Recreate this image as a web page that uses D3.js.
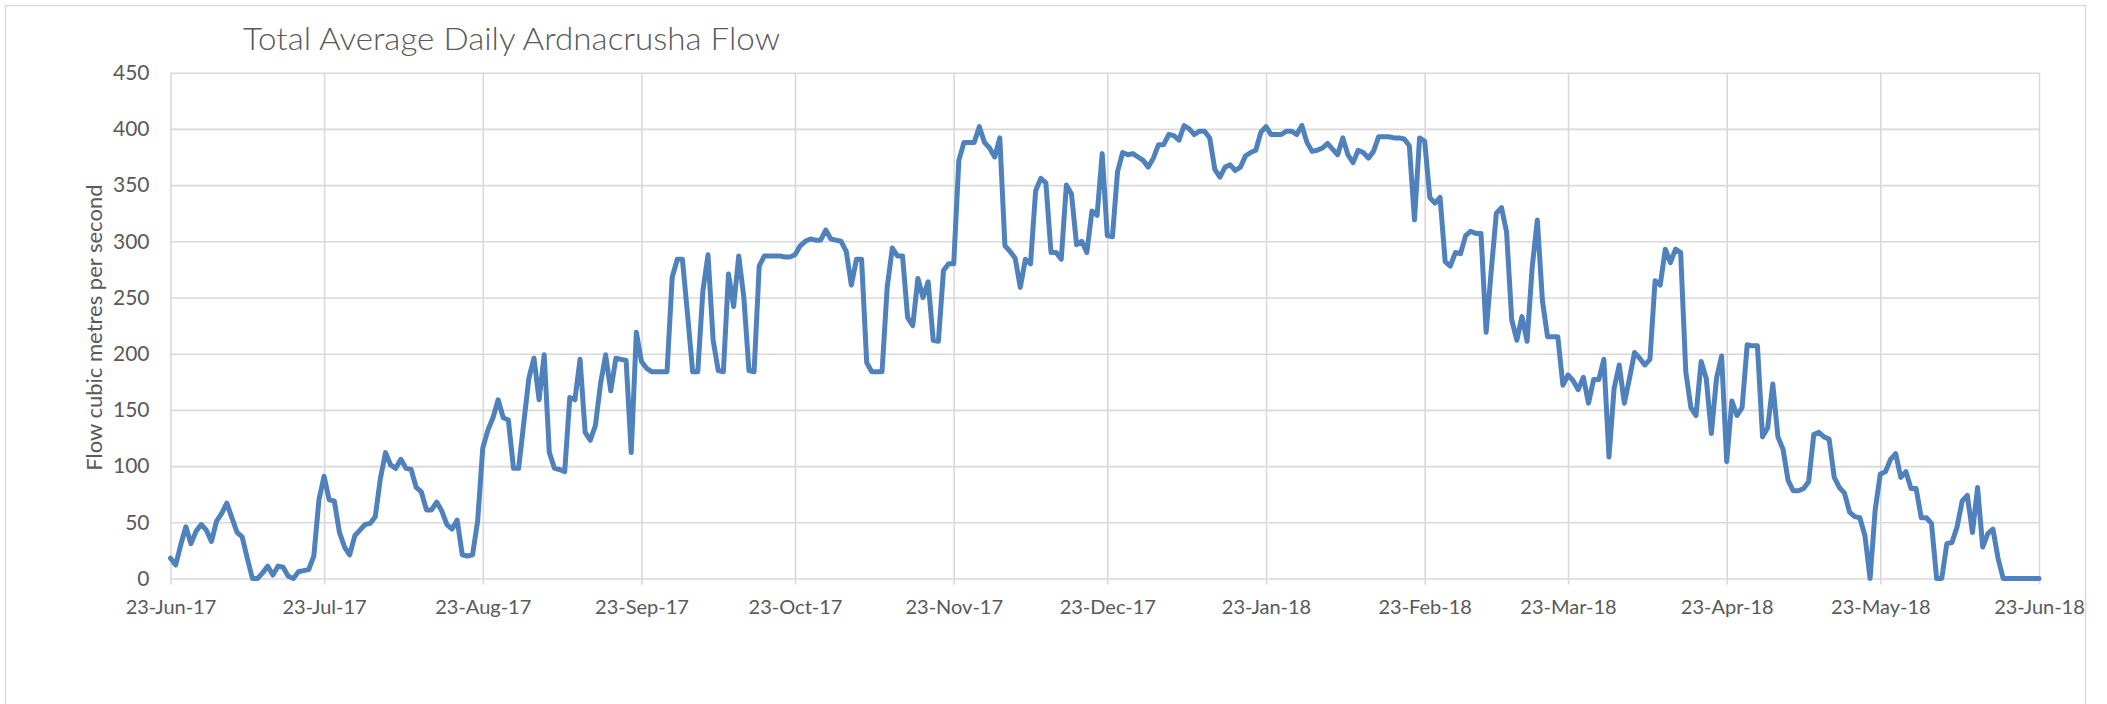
<!DOCTYPE html>
<html>
<head>
<meta charset="utf-8">
<script src="https://cdn.jsdelivr.net/npm/d3@7"></script>
<style>
  html, body { margin: 0; padding: 0; background: #ffffff; }
  svg { display: block; }
  text { font-family: Lato, "Open Sans", sans-serif; fill: #595959; }
</style>
</head>
<body>
<svg id="chart" width="2107" height="704"></svg>
<script>
// Chart text
const chartTitle = "Total Average Daily Ardnacrusha Flow";
const yAxisTitle = "Flow cubic metres per second";

// First day of the daily series
const startDate = "2017-06-23";

// Daily average flow, m³/s, one value per day from 23-Jun-17 to 23-Jun-18
const dailyFlow = [
  // 23 Jun – 22 Jul 2017
  18, 12, 30, 46, 31, 42, 48, 43, 33, 51, 58, 67, 54, 41, 37, 18, 0, 0, 5, 11,
  3, 11, 10, 2, 0, 6, 7, 8, 20, 70,
  // 23 Jul – 22 Aug 2017
  91, 70, 69, 41, 28, 21, 38, 43, 48, 49, 55, 89, 112, 101, 98, 106, 98, 97, 81, 77,
  61, 61, 68, 60, 48, 44, 52, 21, 20, 21, 51,
  // 23 Aug – 22 Sep 2017
  116, 132, 143, 159, 143, 141, 98, 98, 138, 178, 196, 159, 199, 112, 98, 97, 95, 161, 159, 195,
  130, 123, 136, 173, 199, 167, 196, 195, 194, 112, 219,
  // 23 Sep – 22 Oct 2017
  193, 187, 184, 184, 184, 184, 268, 284, 284, 235, 184, 184, 256, 288, 212, 185, 184, 271, 242, 287,
  250, 185, 184, 278, 287, 287, 287, 287, 286, 286,
  // 23 Oct – 22 Nov 2017
  288, 296, 300, 302, 301, 301, 310, 302, 301, 300, 291, 261, 284, 284, 192, 184, 184, 184, 259, 294,
  287, 287, 232, 225, 267, 250, 264, 212, 211, 274, 280,
  // 23 Nov – 22 Dec 2017
  280, 372, 388, 388, 388, 402, 388, 383, 375, 392, 296, 291, 285, 259, 284, 280, 345, 356, 352, 290,
  290, 284, 350, 342, 297, 300, 290, 327, 323, 378,
  // 23 Dec 2017 – 22 Jan 2018
  305, 304, 362, 379, 377, 378, 375, 372, 366, 374, 386, 386, 395, 394, 390, 403, 400, 395, 398, 398,
  392, 364, 357, 366, 368, 363, 366, 376, 379, 381, 397,
  // 23 Jan – 22 Feb 2018
  402, 395, 395, 395, 398, 398, 395, 403, 388, 380, 381, 383, 387, 382, 377, 392, 377, 370, 381, 379,
  374, 380, 393, 393, 393, 392, 392, 391, 385, 319, 392,
  // 23 Feb – 22 Mar 2018
  389, 339, 334, 339, 282, 278, 290, 289, 305, 309, 307, 307, 219, 274, 325, 330, 308, 230, 212, 233,
  211, 277, 319, 247, 215, 215, 215, 172,
  // 23 Mar – 22 Apr 2018
  181, 176, 168, 179, 156, 177, 177, 195, 108, 169, 190, 156, 178, 201, 196, 190, 195, 265, 261, 293,
  281, 293, 290, 184, 152, 145, 193, 178, 129, 178, 198,
  // 23 Apr – 22 May 2018
  104, 158, 145, 152, 208, 207, 207, 126, 134, 173, 126, 115, 87, 78, 78, 80, 86, 128, 130, 126,
  124, 90, 81, 76, 59, 55, 54, 38, 0, 61,
  // 23 May – 23 Jun 2018
  93, 95, 106, 111, 90, 95, 80, 80, 54, 54, 49, 0, 0, 31, 32, 46, 69, 74, 41, 81,
  28, 40, 44, 18, 0, 0, 0, 0, 0, 0, 0, 0
];

// Axis ticks
const xTickLabels = [
  "23-Jun-17", "23-Jul-17", "23-Aug-17", "23-Sep-17", "23-Oct-17", "23-Nov-17", "23-Dec-17",
  "23-Jan-18", "23-Feb-18", "23-Mar-18", "23-Apr-18", "23-May-18", "23-Jun-18"
];
const yTickValues = [0, 50, 100, 150, 200, 250, 300, 350, 400, 450];

// ---- drawing ----
const svg = d3.select("#chart");
const plot = { left: 170.5, right: 2039, top: 72.7, bottom: 578.5 };

const parseLabel = d3.timeParse("%d-%b-%y");
const formatLabel = d3.timeFormat("%d-%b-%y");
const day0 = d3.timeParse("%Y-%m-%d")(startDate);
const series = dailyFlow.map((v, i) => ({ date: d3.timeDay.offset(day0, i), value: v }));
const tickDates = xTickLabels.map(parseLabel);

const x = d3.scaleTime()
  .domain([tickDates[0], tickDates[tickDates.length - 1]])
  .range([plot.left, plot.right]);
const y = d3.scaleLinear()
  .domain([0, d3.max(yTickValues)])
  .range([plot.bottom, plot.top]);

// outer chart frame
svg.append("rect")
  .attr("x", 5.5).attr("y", 5.5)
  .attr("width", 2080).attr("height", 720)
  .attr("fill", "#ffffff")
  .attr("stroke", "#d9d9d9").attr("stroke-width", 1.5);

// horizontal gridlines
svg.append("g")
  .attr("transform", `translate(${plot.left},0)`)
  .call(d3.axisLeft(y).tickValues(yTickValues).tickSize(-(plot.right - plot.left)).tickFormat(""))
  .call(g => g.select(".domain").remove())
  .call(g => g.selectAll("line").attr("stroke", "#d9d9d9").attr("stroke-width", 1.6));

// vertical gridlines, extending a little below the baseline as tick marks
svg.append("g")
  .attr("transform", `translate(0,${plot.bottom + 6})`)
  .call(d3.axisBottom(x).tickValues(tickDates).tickSize(-(plot.bottom + 6 - plot.top)).tickFormat(""))
  .call(g => g.select(".domain").remove())
  .call(g => g.selectAll("line").attr("stroke", "#d9d9d9").attr("stroke-width", 1.6));

// y tick labels
svg.append("g")
  .attr("transform", `translate(${plot.left},0)`)
  .call(d3.axisLeft(y).tickValues(yTickValues).tickSize(0).tickPadding(21))
  .call(g => g.select(".domain").remove())
  .call(g => g.selectAll("text")
    .attr("font-family", "Lato, sans-serif")
    .attr("font-size", 21)
    .style("fill", "#595959"));

// x tick labels
svg.append("g")
  .attr("transform", `translate(0,${plot.bottom})`)
  .call(d3.axisBottom(x).tickValues(tickDates).tickSize(0).tickPadding(21).tickFormat(formatLabel))
  .call(g => g.select(".domain").remove())
  .call(g => g.selectAll("text")
    .attr("font-family", "Lato, sans-serif")
    .attr("font-size", 20)
    .style("fill", "#595959"));

// flow line
const line = d3.line()
  .x(d => x(d.date))
  .y(d => y(d.value));

svg.append("path")
  .datum(series)
  .attr("d", line)
  .attr("fill", "none")
  .attr("stroke", "#4f81bd")
  .attr("stroke-width", 5)
  .attr("stroke-linejoin", "round")
  .attr("stroke-linecap", "round");

// title
svg.append("text")
  .attr("x", 243).attr("y", 50)
  .attr("font-size", 31)
  .attr("font-weight", 300)
  .attr("textLength", 537)
  .attr("lengthAdjust", "spacingAndGlyphs")
  .text(chartTitle);

// y-axis title
svg.append("text")
  .attr("transform", `translate(93,${(plot.top + plot.bottom) / 2 + 2}) rotate(-90)`)
  .attr("text-anchor", "middle")
  .attr("dominant-baseline", "central")
  .attr("font-size", 22)
  .text(yAxisTitle);
</script>
</body>
</html>
